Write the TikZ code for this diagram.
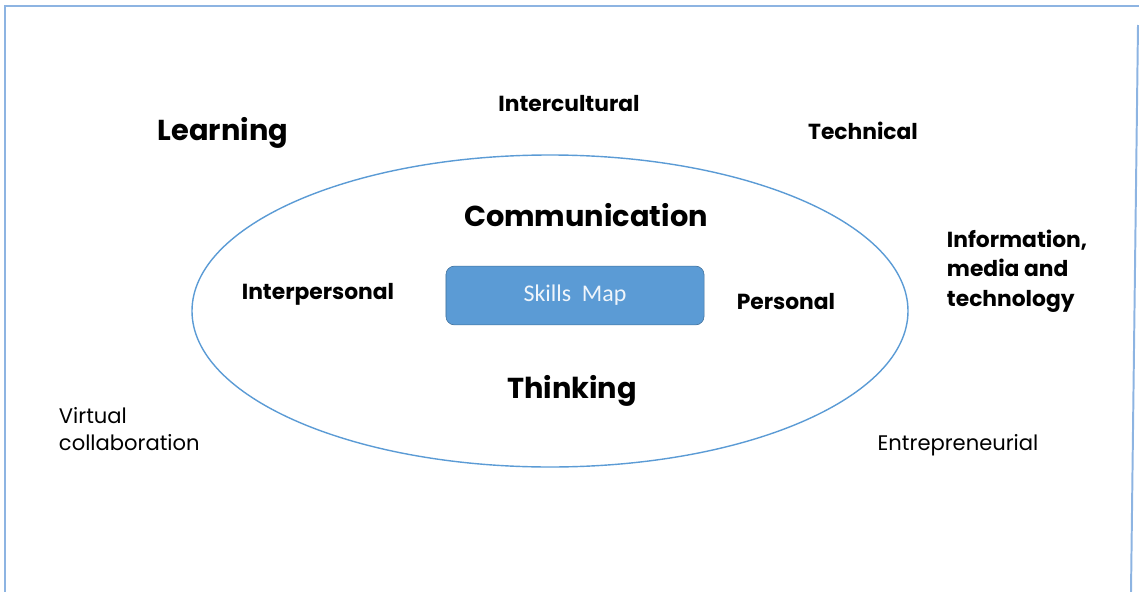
\documentclass[tikz,border=0pt]{standalone}
\usepackage{fontspec}
\setmainfont{Poppins}
\newfontfamily\boxfont{Carlito}
\definecolor{skillblue}{HTML}{5B9BD5}
\definecolor{skilledge}{HTML}{41719C}
\definecolor{framecol}{HTML}{8DB4E2}
\tikzset{
  big/.style={font=\bfseries\fontsize{20.5}{24}\selectfont},
  mid/.style={font=\bfseries\fontsize{15.5}{21}\selectfont},
  small/.style={font=\fontsize{15}{19}\selectfont},
}
\begin{document}
\begin{tikzpicture}[x=0.025cm,y=-0.025cm]
% Parameters
\def\rx{358}
\def\ry{156}
\useasboundingbox (0,0) rectangle (1139,592);
% Page frame
\draw[framecol, line width=1.8pt] (5,592) -- (5,6) -- (1139,6);
\draw[framecol, line width=1.4pt] (1138,25) -- (1131,592);
% Centre ellipse
\coordinate (C) at (550,311);
\draw[skillblue, line width=1pt] (C) ellipse [x radius=\rx, y radius=\ry];
% Skills map box
\node[fill=skillblue, draw=skilledge, rounded corners=6pt, minimum width=6.45cm,
  minimum height=1.47cm, text=white!90!skillblue, font=\boxfont\fontsize{17}{19}\selectfont]
  (map) at (575,295.5) {Skills\ \ Map};
% Skills inside the ellipse
\node[big] (comm) at (586,215) {Communication};
\node[big] (think) at (572,391) {Thinking};
\node[mid] (inter) at (318,294) {Interpersonal};
\node[mid] (pers) at (786,302) {Personal};
% Skills outside the ellipse
\node[big] (learn) at (223,133) {Learning};
\node[mid] (cult) at (569,104) {Intercultural};
\node[mid] (tech) at (863,131) {Technical};
\node[mid, align=left, anchor=west] (info) at (942,271) {Information,\\media and\\technology};
\node[small, align=left, anchor=west] (virt) at (54,429) {Virtual\\collaboration};
\node[small] (entr) at (958,445) {Entrepreneurial};
\end{tikzpicture}
\end{document}
